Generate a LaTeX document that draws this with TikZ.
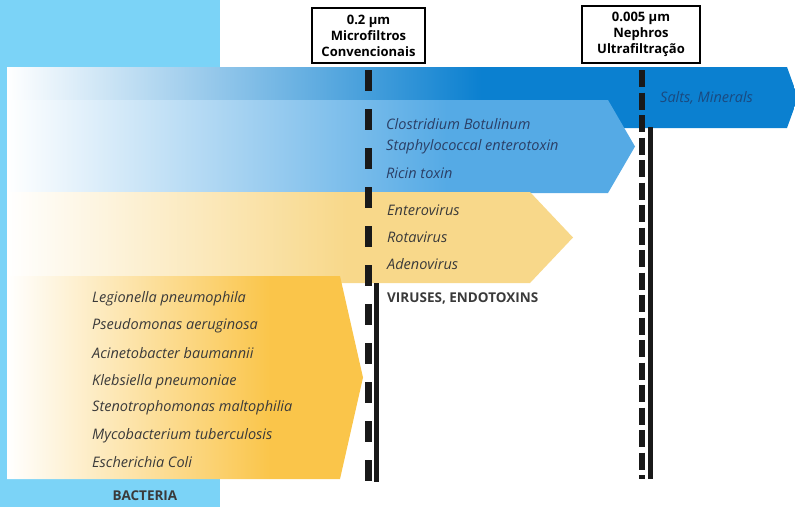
\documentclass[tikz,border=0pt]{standalone}
\usepackage{fontspec}
\setmainfont{Open Sans}
\usetikzlibrary{positioning}
\usetikzlibrary{calc}
\definecolor{colblue}{HTML}{7BD3F7}
\definecolor{saltblue}{HTML}{0B80D0}
\definecolor{toxblue}{HTML}{55AAE5}
\definecolor{virusyellow}{HTML}{F8D88A}
\definecolor{bactorange}{HTML}{FAC54A}
\definecolor{labelgrey}{HTML}{3A3A3A}
\definecolor{toxtext}{HTML}{2B3F66}
\definecolor{salttext}{HTML}{1A4A80}
% bar fades: the path box is 25bp..75bp
\pgfdeclarehorizontalshading{saltfade}{100bp}{color(0bp)=(white); color(25bp)=(white); color(55bp)=(saltblue); color(100bp)=(saltblue)}
\pgfdeclarehorizontalshading{toxfade}{100bp}{color(0bp)=(white); color(25bp)=(white); color(60bp)=(toxblue); color(100bp)=(toxblue)}
\pgfdeclarehorizontalshading{virusfade}{100bp}{color(0bp)=(white); color(25bp)=(white); color(55bp)=(virusyellow); color(100bp)=(virusyellow)}
\pgfdeclarehorizontalshading{bactfade}{100bp}{color(0bp)=(white); color(25bp)=(white); color(62bp)=(bactorange); color(100bp)=(bactorange)}
\tikzstyle{filterbox}=[draw=black,line width=1.4pt,fill=white,align=center,inner sep=0pt,font=\bfseries\fontsize{13}{16}\selectfont]
\tikzstyle{species}=[anchor=west,inner sep=0pt,font=\itshape\fontsize{14.5}{16}\selectfont]
\tikzstyle{group}=[inner sep=0pt,text=labelgrey,font=\bfseries\fontsize{13.5}{15}\selectfont]
\tikzstyle{dashwall}=[draw=black!90,line width=6.5pt,dash pattern=on 21pt off 18pt]
\tikzstyle{solidwall}=[draw=black!90,line width=5pt]

\begin{document}
\begin{tikzpicture}[x=1pt,y=-1pt]

  \useasboundingbox (0,0) rectangle (795,507);
  \clip (0,0) rectangle (795,507);

  % light blue column behind the bars
  \fill[colblue] (0,0) rectangle (220,507);

  % bars, back to front
  \shade[shading=saltfade] (7,67) -- (787,67) -- (798,97.5) -- (787,128) -- (7,128) -- cycle;
  \shade[shading=toxfade] (7,100) -- (608,100) -- (635,146.5) -- (608,193) -- (7,193) -- cycle;
  \shade[shading=virusfade] (7,192) -- (530,192) -- (573,237.5) -- (530,283) -- (7,283) -- cycle;
  \shade[shading=bactfade] (7,276) -- (340,276) -- (363,377.5) -- (340,479) -- (7,479) -- cycle;

  % filter walls
  \coordinate (microtop) at (368.5,70);
  \coordinate (microbot) at (368.5,482);
  \coordinate (microsolid) at (376,283);
  \coordinate (ultratop) at (642,70);
  \coordinate (ultrabot) at (642,479);
  \coordinate (ultrasolid) at (650,127);

  \draw[dashwall] (microtop) -- (microbot);
  \draw[solidwall] (microsolid) -- (microsolid |- microbot);
  \draw[dashwall, dash pattern=on 17pt off 5.5pt] (ultratop) -- (ultrabot);
  \draw[solidwall] (ultrasolid) -- (ultrasolid |- ultrabot);

  % filter boxes
  \node[filterbox, minimum width=113pt, minimum height=55pt] (micro) at (368.5,35.5) {0.2 µm\\Microfiltros\\Convencionais};
  \node[filterbox, minimum width=118pt, minimum height=57pt] (ultra) at (641,34.5) {0.005 µm\\Nephros\\Ultrafiltração};

  \node[species, text=salttext] (salts) at (660,98) {Salts, Minerals};

  \foreach \y/\name/\label in {124/clos/Clostridium Botulinum, 147/staph/Staphylococcal enterotoxin, 173/ricin/Ricin toxin}
    \node[species, text=toxtext] (\name) at (386,\y) {\label};

  \foreach \y/\name/\label in {210/entero/Enterovirus, 237/rota/Rotavirus, 264/adeno/Adenovirus}
    \node[species, text=labelgrey] (\name) at (387,\y) {\label};

  \foreach \y/\name/\label in {299/legio/Legionella pneumophila, 326/pseudo/Pseudomonas aeruginosa, 353/acine/Acinetobacter baumannii, 382/klebs/Klebsiella pneumoniae, 408/steno/Stenotrophomonas maltophilia, 436/myco/Mycobacterium tuberculosis, 462/esch/Escherichia Coli}
    \node[species, text=labelgrey] (\name) at (92,\y) {\label};

  \node[group, anchor=west] (virus) at (387,298) {VIRUSES, ENDOTOXINS};
  \node[group] (bact) at (145,496) {BACTERIA};

\end{tikzpicture}
\end{document}
